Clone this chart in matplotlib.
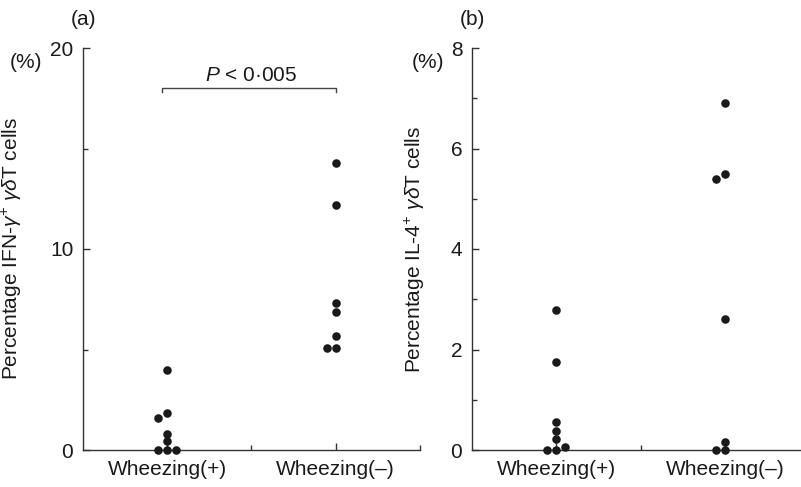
import matplotlib
matplotlib.use("Agg")
import matplotlib.pyplot as plt
from matplotlib.ticker import FixedLocator

plt.rcParams['font.family'] = ['Liberation Sans', 'DejaVu Sans']
plt.rcParams['mathtext.fontset'] = 'custom'
plt.rcParams['mathtext.rm'] = 'Liberation Sans'
plt.rcParams['mathtext.it'] = 'Liberation Sans:italic'
plt.rcParams['mathtext.bf'] = 'Liberation Sans:bold'

# ---------------- data ----------------
categories = ["Wheezing(+)", "Wheezing(\u2013)"]

ifn_wheeze_pos = [3.96, 1.82, 1.60, 0.80, 0.46, 0.0, 0.0, 0.0]
ifn_wheeze_neg = [14.28, 12.17, 7.30, 6.88, 5.67, 5.09, 5.09]

il4_wheeze_pos = [2.79, 1.75, 0.56, 0.38, 0.22, 0.0, 0.0, 0.05]
il4_wheeze_neg = [6.90, 5.49, 5.39, 2.60, 0.15, 0.0, 0.0]

ifn_yticks = [0, 10, 20]
ifn_yminor = [5, 15]
il4_yticks = [0, 2, 4, 6, 8]
il4_yminor = [1, 3, 5, 7]

p_text = r"$P$ < 0·005"

# ---------------- layout ----------------
W, H = 801, 487
fig = plt.figure(figsize=(W / 100, H / 100), dpi=100)

y0_px, ytop_px = 450, 48
ax_a = fig.add_axes([83 / W, (H - y0_px) / H, 337 / W, (y0_px - ytop_px) / H])
ax_b = fig.add_axes([472 / W, (H - y0_px) / H, 329 / W, (y0_px - ytop_px) / H])

xpos = [1, 3]
INK = "#1a1a1a"
AX = "#333333"
FS = 15


def swarm(values, px_per_unit, thresh_px=6.5, step=0.107):
    placed = []
    offs = []
    for v in values:
        for k in [0, -1, 1, -2, 2]:
            ok = all(not (pk == k and abs(pv - v) * px_per_unit < thresh_px)
                     for pv, pk in placed)
            if ok:
                break
        placed.append((v, k))
        offs.append(k * step)
    return offs


def style(ax, ylim, xmax, yticks, yminor):
    ax.set_xlim(0, xmax)
    ax.set_ylim(*ylim)
    for s in ["top", "right"]:
        ax.spines[s].set_visible(False)
    for s in ["left", "bottom"]:
        ax.spines[s].set_color(AX)
        ax.spines[s].set_linewidth(1.0)
    ax.set_yticks(yticks)
    ax.yaxis.set_minor_locator(FixedLocator(yminor))
    ax.set_xticks(xpos)
    ax.set_xticklabels(categories)
    ax.xaxis.set_minor_locator(FixedLocator([2, 4]))
    ax.tick_params(axis="both", which="major", direction="in", length=5,
                   width=1.0, color=AX, labelsize=FS, labelcolor=INK)
    ax.tick_params(axis="y", which="major", pad=7)
    ax.tick_params(axis="x", which="major", pad=7)
    ax.tick_params(axis="both", which="minor", direction="in", length=3.5,
                   width=1.0, color=AX)


def draw(ax, groups, ylim):
    px_per_unit = (y0_px - ytop_px) / (ylim[1] - ylim[0])
    for x, vals in zip(xpos, groups):
        offs = swarm(vals, px_per_unit)
        ax.scatter([x + o for o in offs], vals, s=38, color=INK,
                   linewidths=0, zorder=5, clip_on=False)


# panel (a)
style(ax_a, (0, 20), 4, ifn_yticks, ifn_yminor)
draw(ax_a, [ifn_wheeze_pos, ifn_wheeze_neg], (0, 20))
ax_a.set_ylabel(r"Percentage IFN-$\gamma^{+}$ $\gamma\delta$T cells",
                fontsize=FS, color=INK)
ax_a.yaxis.set_label_coords(-0.175, 0.5)
ax_a.text(-0.17, 0.965, "(%)", transform=ax_a.transAxes, fontsize=FS,
          color=INK, ha="center", va="center")
ax_a.text(0.0, 1.07, "(a)", transform=ax_a.transAxes, fontsize=FS,
          color=INK, ha="center", va="center")

# significance bracket
bx0, bx1, by = xpos[0] - 0.06, xpos[1], 18.0
ax_a.plot([bx0, bx0, bx1, bx1], [by - 0.2, by, by, by - 0.2],
          color="#444444", lw=1.0, clip_on=False)
ax_a.text((xpos[0] + xpos[1]) / 2, 18.35, p_text, fontsize=FS, color=INK,
          ha="center", va="baseline")

# panel (b)
style(ax_b, (0, 8), 3.9, il4_yticks, il4_yminor)
draw(ax_b, [il4_wheeze_pos, il4_wheeze_neg], (0, 8))
ax_b.set_ylabel(r"Percentage IL-4$^{+}$ $\gamma\delta$T cells",
                fontsize=FS, color=INK)
ax_b.yaxis.set_label_coords(-0.137, 0.5)
ax_b.text(-0.135, 0.965, "(%)", transform=ax_b.transAxes, fontsize=FS,
          color=INK, ha="center", va="center")
ax_b.text(0.0, 1.07, "(b)", transform=ax_b.transAxes, fontsize=FS,
          color=INK, ha="center", va="center")

fig.savefig("out.png", dpi=100)
